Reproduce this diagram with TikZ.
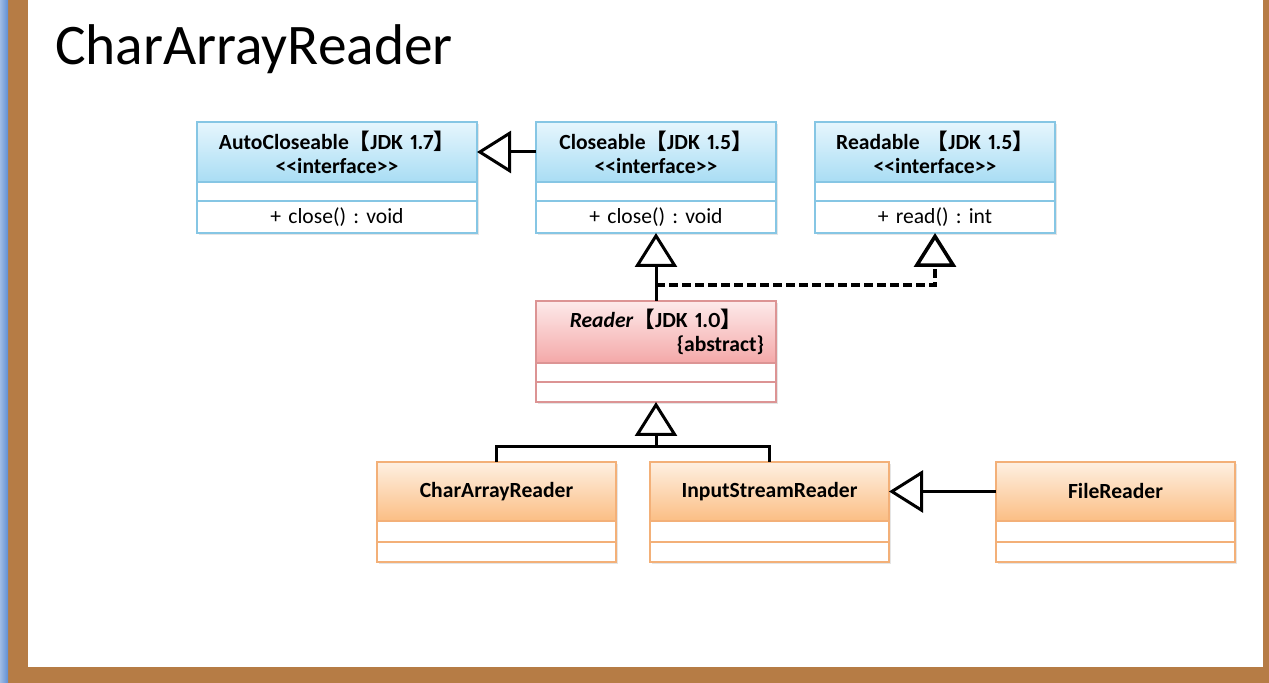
\documentclass[tikz,border=0pt]{standalone}
\usepackage{fontspec}
\setmainfont{Carlito}[Numbers=Proportional]
\newfontfamily\cjkfont{Noto Sans CJK SC}
\usepackage{tikz}
\usetikzlibrary{positioning, arrows.meta, shadows}

\definecolor{ifacetop}{HTML}{E6F6FD}
\definecolor{ifacebot}{HTML}{A9DDF4}
\definecolor{ifaceline}{HTML}{86C6E4}
\definecolor{abstop}{HTML}{FDEAEA}
\definecolor{absbot}{HTML}{F4A8A8}
\definecolor{absline}{HTML}{DC9494}
\definecolor{clstop}{HTML}{FEF0E2}
\definecolor{clsbot}{HTML}{FBBE84}
\definecolor{clsline}{HTML}{F3B078}
\definecolor{wood}{HTML}{B67C45}
\definecolor{deskblue}{HTML}{5F8ED3}

\newcommand{\clshead}{\fontsize{10.8}{12}\selectfont\bfseries\frenchspacing\spaceskip=0.14em\relax}
\newcommand{\clsslot}{\fontsize{10.8}{12}\selectfont\frenchspacing\spaceskip=0.14em\relax}
\newcommand{\jdk}[1]{{\cjkfont 【}JDK #1{\cjkfont 】}}
\newcommand{\stereo}[1]{<\kern0pt<#1>\kern0pt>}

\begin{document}
\begin{tikzpicture}[x=0.5pt, y=-0.5pt,
    umlpart/.style={draw=#1, line width=0.7pt, inner sep=0pt, outer sep=0pt, align=center,
      drop shadow={shadow xshift=0.8pt, shadow yshift=-1.2pt, opacity=0.2}},
    head/.style 2 args={umlpart=#1line, top color=#1top, bottom color=#1bot, text width=#2, font=\clshead},
    slot/.style 2 args={umlpart=#1line, fill=white, text width=#2, font=\clsslot},
    gen/.style={line width=1.5pt, -{Triangle[open, length=17pt, width=21pt]}},
    real/.style={gen, line width=1.8pt, dash pattern=on 4.5pt off 2pt},
    conn/.style={line width=1.5pt}]

  % slide frame
  \fill[wood] (0,0) rectangle (1269,683);
  \shade[left color=deskblue!60!white, right color=deskblue] (0,0) rectangle (8,683);
  \fill[white] (28,0) rectangle (1263,667);

  \node[anchor=base west, font=\fontsize{28.7}{30}\selectfont] (title) at (48,65) {CharArrayReader};

  % interfaces
  \node[head={iface}{140pt}, minimum height=30pt] (auto) at (337,152) {AutoCloseable\jdk{1.7}\\\stereo{interface}};
  \node[slot={iface}{140pt}, minimum height=9.5pt] (auto-a) [below=0pt of auto] {};
  \node[slot={iface}{140pt}, minimum height=16pt] (auto-m) [below=0pt of auto-a] {+ close() : void};

  \node[head={iface}{120pt}, minimum height=30pt] (close) [right=29.5pt of auto] {Closeable\jdk{1.5}\\\stereo{interface}};
  \node[slot={iface}{120pt}, minimum height=9.5pt] (close-a) [below=0pt of close] {};
  \node[slot={iface}{120pt}, minimum height=16pt] (close-m) [below=0pt of close-a] {+ close() : void};

  \node[head={iface}{120pt}, minimum height=30pt] (read) [right=19.5pt of close] {Readable \jdk{1.5}\\\stereo{interface}};
  \node[slot={iface}{120pt}, minimum height=9.5pt] (read-a) [below=0pt of read] {};
  \node[slot={iface}{120pt}, minimum height=16pt] (read-m) [below=0pt of read-a] {+ read() : int};

  % abstract class
  \node[head={abs}{120pt}, minimum height=31pt] (reader) [below=34pt of close-m] {\textit{Reader}\jdk{1.0}\\\hfill\{abstract\}\rule{6pt}{0pt}};
  \node[slot={abs}{120pt}, minimum height=9.5pt] (reader-a) [below=0pt of reader] {};
  \node[slot={abs}{120pt}, minimum height=10pt] (reader-m) [below=0pt of reader-a] {};

  % classes
  \node[head={cls}{119.5pt}, minimum height=29.5pt] (car) at (496.5,491.5) {CharArrayReader};
  \node[slot={cls}{119.5pt}, minimum height=10.5pt] (car-a) [below=0pt of car] {};
  \node[slot={cls}{119.5pt}, minimum height=10pt] (car-m) [below=0pt of car-a] {};

  \node[head={cls}{119.5pt}, minimum height=29.5pt] (isr) [right=17pt of car] {InputStreamReader};
  \node[slot={cls}{119.5pt}, minimum height=10.5pt] (isr-a) [below=0pt of isr] {};
  \node[slot={cls}{119.5pt}, minimum height=10pt] (isr-m) [below=0pt of isr-a] {};

  \node[head={cls}{119.5pt}, minimum height=29.5pt] (file) [right=53.5pt of isr] {FileReader};
  \node[slot={cls}{119.5pt}, minimum height=10.5pt] (file-a) [below=0pt of file] {};
  \node[slot={cls}{119.5pt}, minimum height=10pt] (file-m) [below=0pt of file-a] {};

  % relations
  \draw[gen] (close.west) -- (auto.east);
  \draw[gen] (reader.north) -- (close-m.south);
  \draw[real] (reader.north) ++(0,-16) -| (read-m.south);
  \draw[conn] (car.north) -- ++(0,-15) -| (isr.north);
  \draw[gen] (reader-m.south |- car.north) ++(0,-15) -- (reader-m.south);
  \draw[gen] (file.west) -- (isr.east);
\end{tikzpicture}
\end{document}
